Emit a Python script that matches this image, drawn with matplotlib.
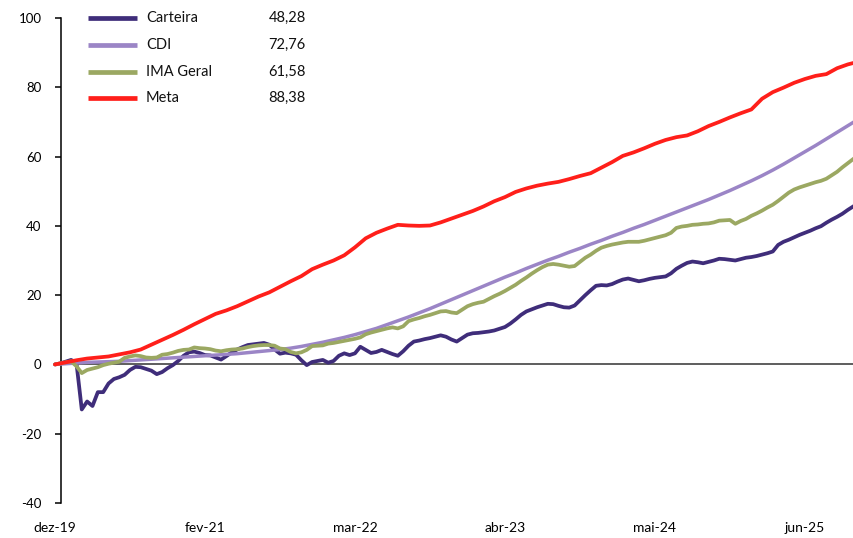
import matplotlib
matplotlib.use('Agg')
import matplotlib.pyplot as plt
import matplotlib.dates as mdates
from matplotlib.lines import Line2D
import pandas as pd

plt.rcParams['font.family'] = ['Lato', 'DejaVu Sans']
plt.rcParams['axes.unicode_minus'] = False

# ---------------- data ----------------
DATE_START = '2019-12-31'
DATE_END = '2025-11-12'

SERIES_NAMES = ['Carteira', 'CDI', 'IMA Geral', 'Meta']
LEGEND_VALUES = ['48,28', '72,76', '61,58', '88,38']
COLORS = ['#3f2d7a', '#9b85c6', '#9ba862', '#ff1f1a']

XTICK_DATES = ['2019-12-31', '2021-02-03', '2022-03-10', '2023-04-14', '2024-05-18', '2025-06-22']
XTICK_LABELS = ['dez-19', 'fev-21', 'mar-22', 'abr-23', 'mai-24', 'jun-25']
YTICKS = [-40, -20, 0, 20, 40, 60, 80, 100]

# bi-weekly points (151)
CARTEIRA = [
    0, 0.3, 0.8, 1.3, 0.5, -13.0, -10.7, -12.0, -8.0, -8.0,
    -5.5, -4.2, -3.7, -3.0, -1.6, -0.7, -0.8, -1.3, -1.8, -2.8,
    -2.2, -1.1, -0.2, 1.0, 2.5, 3.5, 3.7, 3.3, 2.7, 2.6,
    2.0, 1.4, 2.4, 3.5, 4.3, 5.0, 5.6, 5.8, 6.0, 6.2,
    5.7, 4.3, 3.1, 3.4, 3.2, 2.8, 1.2, -0.2, 0.7, 1.0,
    1.3, 0.5, 1.0, 2.5, 3.2, 2.7, 3.2, 5.1, 4.2, 3.3,
    3.6, 4.2, 3.6, 3.0, 2.5, 3.8, 5.4, 6.6, 6.9, 7.3,
    7.6, 8.0, 8.4, 8.0, 7.2, 6.6, 7.6, 8.6, 9.0, 9.1,
    9.3, 9.5, 9.8, 10.3, 10.8, 11.8, 13.0, 14.3, 15.3, 15.9,
    16.5, 17.0, 17.5, 17.4, 16.9, 16.5, 16.4, 17.0, 18.5, 20.0,
    21.4, 22.7, 22.9, 22.8, 23.2, 23.9, 24.5, 24.8, 24.4, 24.0,
    24.3, 24.7, 25.0, 25.2, 25.4, 26.3, 27.6, 28.5, 29.3, 29.7,
    29.5, 29.2, 29.6, 30.0, 30.5, 30.4, 30.2, 30.0, 30.4, 30.8,
    31.0, 31.3, 31.7, 32.1, 32.6, 34.5, 35.4, 36.0, 36.7, 37.4,
    38.0, 38.6, 39.3, 39.9, 40.9, 41.8, 42.6, 43.5, 44.6, 45.6, 46.5,
]

IMA_GERAL = [
    0, 0.3, 0.6, 0.9, -0.5, -2.5, -1.6, -1.2, -0.8, -0.2,
    0.2, 0.5, 0.8, 1.9, 2.3, 2.6, 2.4, 2.0, 1.9, 2.0,
    2.8, 3.0, 3.4, 3.9, 4.2, 4.3, 4.9, 4.7, 4.6, 4.4,
    4.0, 3.8, 4.1, 4.3, 4.4, 4.6, 5.0, 5.3, 5.5, 5.6,
    5.6, 5.4, 4.6, 4.4, 3.6, 3.2, 3.5, 4.2, 5.3, 5.4,
    5.5, 6.0, 6.2, 6.5, 6.8, 7.1, 7.4, 7.8, 8.7, 9.2,
    9.6, 10.0, 10.4, 10.7, 10.4, 11.0, 12.5, 13.0, 13.4, 13.9,
    14.3, 14.8, 15.3, 15.4, 15.0, 14.8, 15.8, 16.8, 17.4, 17.8,
    18.1, 18.9, 19.7, 20.4, 21.2, 22.1, 23.0, 24.1, 25.1, 26.2,
    27.2, 28.1, 28.8, 29.0, 28.8, 28.5, 28.2, 28.4, 29.6, 30.8,
    31.7, 32.8, 33.7, 34.2, 34.6, 34.9, 35.2, 35.4, 35.4, 35.4,
    35.7, 36.1, 36.5, 36.9, 37.3, 38.0, 39.4, 39.8, 40.0, 40.3,
    40.4, 40.6, 40.7, 41.0, 41.5, 41.6, 41.7, 40.6, 41.4, 42.0,
    42.9, 43.6, 44.4, 45.3, 46.1, 47.2, 48.4, 49.6, 50.5, 51.1,
    51.6, 52.1, 52.6, 53.0, 53.6, 54.6, 55.6, 56.9, 58.1, 59.3, 60.3,
]

# monthly points (76)
CDI = [
    0, 0.2, 0.4, 0.6, 0.7, 0.8, 0.9, 1.1, 1.3, 1.5,
    1.7, 1.9, 2.1, 2.3, 2.5, 2.7, 2.9, 3.1, 3.4, 3.7,
    4.0, 4.3, 4.7, 5.2, 5.8, 6.4, 7.1, 7.8, 8.6, 9.5,
    10.4, 11.5, 12.6, 13.7, 14.9, 16.1, 17.4, 18.7, 20.0, 21.3,
    22.6, 23.9, 25.2, 26.4, 27.7, 28.9, 30.1, 31.2, 32.4, 33.5,
    34.7, 35.8, 37.0, 38.1, 39.3, 40.4, 41.6, 42.8, 44.0, 45.2,
    46.4, 47.6, 48.9, 50.2, 51.6, 53.0, 54.5, 56.1, 57.8, 59.6,
    61.4, 63.2, 65.1, 67.0, 68.9, 70.8,
]

META = [
    0, 0.6, 1.2, 1.7, 2.0, 2.3, 2.9, 3.5, 4.3, 5.7,
    7.1, 8.5, 10.0, 11.6, 13.1, 14.6, 15.6, 16.8, 18.2, 19.6,
    20.8, 22.4, 24.0, 25.5, 27.5, 28.8, 30.0, 31.5, 33.8, 36.4,
    38.0, 39.2, 40.3, 40.1, 40.0, 40.1, 41.0, 42.1, 43.2, 44.3,
    45.6, 47.1, 48.3, 49.8, 50.8, 51.6, 52.2, 52.7, 53.5, 54.4,
    55.2, 56.8, 58.4, 60.2, 61.2, 62.4, 63.7, 64.8, 65.6, 66.1,
    67.3, 68.8, 70.0, 71.3, 72.5, 73.6, 76.7, 78.6, 79.9, 81.3,
    82.4, 83.3, 83.8, 85.5, 86.6, 87.4,
]

# ---------------- figure ----------------
W, H = 854, 538
fig = plt.figure(figsize=(W / 100, H / 100), dpi=100)
ax = fig.add_axes([50 / W, 35 / H, 804 / W, 485 / H])

start = pd.Timestamp(DATE_START)
dates_fine = pd.date_range(DATE_START, DATE_END, periods=len(CARTEIRA))
dates_month = pd.date_range(DATE_START, DATE_END, periods=len(CDI))

x_left = start - pd.Timedelta(days=13.3)
x_right = start + pd.Timedelta(days=2131)
spine_date = start + pd.Timedelta(days=16)

series = [
    (dates_fine, CARTEIRA, 2.7),
    (dates_month, CDI, 2.5),
    (dates_fine, IMA_GERAL, 2.7),
    (dates_month, META, 2.7),
]
for i, (d, v, lw) in enumerate(series):
    ax.plot(d, v, color=COLORS[i], lw=lw, solid_joinstyle='round',
            solid_capstyle='round', zorder=3 + i)

ax.hlines(0, spine_date, x_right, color='#505050', lw=1.3, zorder=2)

ax.set_xlim(x_left, x_right)
ax.set_ylim(-40, 100)

for s in ['top', 'right', 'bottom']:
    ax.spines[s].set_visible(False)
ax.spines['left'].set_position(('data', mdates.date2num(spine_date)))
ax.spines['left'].set_color('black')
ax.spines['left'].set_linewidth(1.1)

ax.set_yticks(YTICKS)
ax.set_yticklabels([str(t) for t in YTICKS])
ax.tick_params(axis='y', length=4, width=1.1, pad=10, labelsize=9.5,
               direction='out', colors='black')

ax.set_xticks(pd.to_datetime(XTICK_DATES))
ax.set_xticklabels(XTICK_LABELS)
ax.tick_params(axis='x', length=0, pad=14, labelsize=10, colors='black')

# legend (manual)
row_y = [18.3, 45.0, 71.7, 98.3]
for i, name in enumerate(SERIES_NAMES):
    yf = 1 - row_y[i] / H
    fig.add_artist(Line2D([88 / W, 137 / W], [yf, yf], transform=fig.transFigure,
                          color=COLORS[i], lw=3.4, solid_capstyle='butt'))
    fig.text(146 / W, yf, name, va='center', ha='left', fontsize=10.5, color='#111111')
    fig.text(306 / W, yf, LEGEND_VALUES[i], va='center', ha='right', fontsize=10.5,
             color='#111111')

fig.savefig('out.png', dpi=100)
